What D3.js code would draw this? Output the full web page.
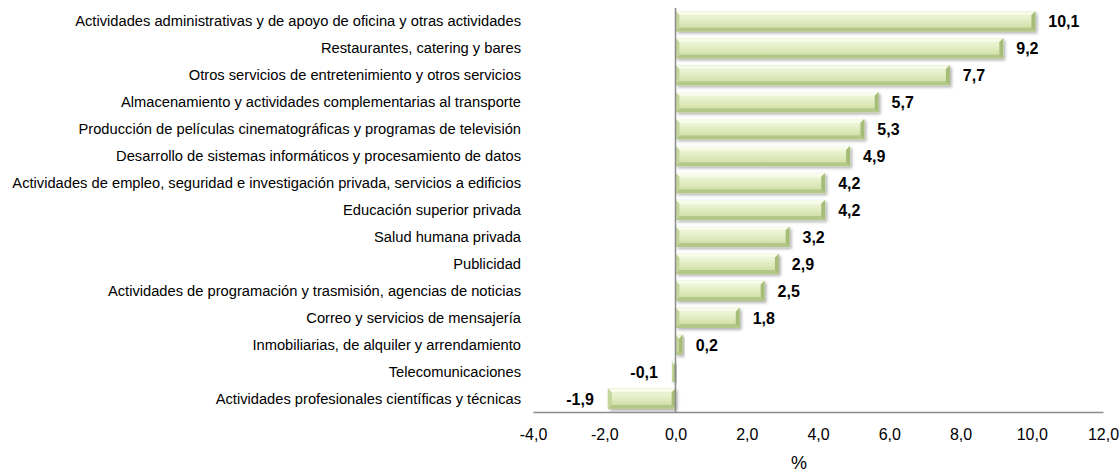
<!DOCTYPE html>
<html>
<head>
<meta charset="utf-8">
<script src="https://cdn.jsdelivr.net/npm/d3@7"></script>
<style>
  body { margin: 0; background: #fff; }
  text { font-family: "Liberation Sans", Arial, sans-serif; }
</style>
</head>
<body>
<script>
const categories = [
  "Actividades administrativas y de apoyo de oficina y otras actividades",
  "Restaurantes, catering y bares",
  "Otros servicios de entretenimiento y otros servicios",
  "Almacenamiento y actividades complementarias al transporte",
  "Producción de películas cinematográficas y programas de televisión",
  "Desarrollo de sistemas informáticos y procesamiento de datos",
  "Actividades de empleo, seguridad e investigación privada, servicios a edificios",
  "Educación superior privada",
  "Salud humana privada",
  "Publicidad",
  "Actividades de programación y trasmisión, agencias de noticias",
  "Correo y servicios de mensajería",
  "Inmobiliarias, de alquiler y arrendamiento",
  "Telecomunicaciones",
  "Actividades profesionales científicas y técnicas"
];
const values = [10.1, 9.2, 7.7, 5.7, 5.3, 4.9, 4.2, 4.2, 3.2, 2.9, 2.5, 1.8, 0.2, -0.1, -1.9];
const xTicks = [-4, -2, 0, 2, 4, 6, 8, 10, 12];

const width = 1119, height = 474;
const fmt = v => d3.format(".1f")(v).replace(".", ",").replace("\u2212", "-");

const svg = d3.select("body").append("svg")
  .attr("width", width).attr("height", height);

const x = d3.scaleLinear().domain([-4, 12]).range([533, 1103]);
const y = d3.scaleBand().domain(categories).range([8, 412]).paddingInner(0.25).paddingOuter(0.12);

const defs = svg.append("defs");
const face = defs.append("linearGradient").attr("id", "gFace").attr("x1", 0).attr("y1", 0).attr("x2", 0).attr("y2", 1);
face.append("stop").attr("offset", "0%").attr("stop-color", "#eff6d8");
face.append("stop").attr("offset", "100%").attr("stop-color", "#d2e1aa");
const shadow = defs.append("filter").attr("id", "shadow").attr("x", "-10%").attr("y", "-30%").attr("width", "130%").attr("height", "180%");
shadow.append("feDropShadow").attr("dx", 2).attr("dy", 2).attr("stdDeviation", 1.5).attr("flood-color", "#000").attr("flood-opacity", 0.3);

// bevelled bars
function bevel(d, i) {
  const x0 = x(Math.min(0, d)), x1 = x(Math.max(0, d));
  const y0 = y(categories[i]), y1 = y0 + y.bandwidth();
  const b = Math.min(4, (x1 - x0) / 2);
  const P = pts => "M" + pts.map(p => p.join(",")).join("L") + "Z";
  return [
    { p: P([[x0, y0], [x1, y0], [x1 - b, y0 + 4], [x0 + b, y0 + 4]]), c: "#f7fbe9" },
    { p: P([[x0, y1], [x1, y1], [x1 - b, y1 - 4], [x0 + b, y1 - 4]]), c: "#b3c888" },
    { p: P([[x0, y0], [x0 + b, y0 + 4], [x0 + b, y1 - 4], [x0, y1]]), c: "#c4d69b" },
    { p: P([[x1, y0], [x1 - b, y0 + 4], [x1 - b, y1 - 4], [x1, y1]]), c: "#a6bd78" },
    { p: P([[x0 + b, y0 + 4], [x1 - b, y0 + 4], [x1 - b, y1 - 4], [x0 + b, y1 - 4]]), c: "url(#gFace)" }
  ];
}
const bars = svg.append("g").selectAll("g").data(values).join("g");
bars.append("rect")
  .attr("x", d => x(Math.min(0, d)))
  .attr("y", (d, i) => y(categories[i]))
  .attr("width", d => Math.abs(x(d) - x(0)))
  .attr("height", y.bandwidth())
  .attr("fill", "#c9daa2")
  .attr("filter", "url(#shadow)");
bars.selectAll("path").data((d, i) => bevel(d, i)).join("path")
  .attr("d", s => s.p).attr("fill", s => s.c);

// value labels
svg.append("g").selectAll("text").data(values).join("text")
  .attr("x", d => d >= 0 ? x(d) + 13 : x(d) - 14)
  .attr("y", (d, i) => y(categories[i]) + y.bandwidth() / 2 + 6)
  .attr("text-anchor", d => d >= 0 ? "start" : "end")
  .attr("font-size", 16).attr("font-weight", "bold").attr("fill", "#000")
  .text(fmt);

// category labels
svg.append("g").selectAll("text").data(categories).join("text")
  .attr("x", 521)
  .attr("y", d => y(d) + y.bandwidth() / 2 + 5)
  .attr("text-anchor", "end")
  .attr("font-size", 14.7).attr("fill", "#000")
  .text(d => d);

// x axis
const xAxis = svg.append("g").attr("transform", "translate(0,412)")
  .call(d3.axisBottom(x).tickValues(xTicks).tickSize(0).tickPadding(17).tickFormat(fmt));
xAxis.select(".domain").attr("stroke", "#8c8c8c").attr("stroke-width", 1.5);
xAxis.selectAll("text").attr("font-size", 16).attr("fill", "#000")
  .attr("font-family", "'Liberation Sans', Arial, sans-serif");

// zero line
svg.append("line")
  .attr("x1", x(0)).attr("x2", x(0)).attr("y1", 8).attr("y2", 412)
  .attr("stroke", "#8c8c8c").attr("stroke-width", 1.5);

svg.append("text")
  .attr("x", 799).attr("y", 469)
  .attr("text-anchor", "middle").attr("font-size", 18).attr("fill", "#000")
  .text("%");
</script>
</body>
</html>
